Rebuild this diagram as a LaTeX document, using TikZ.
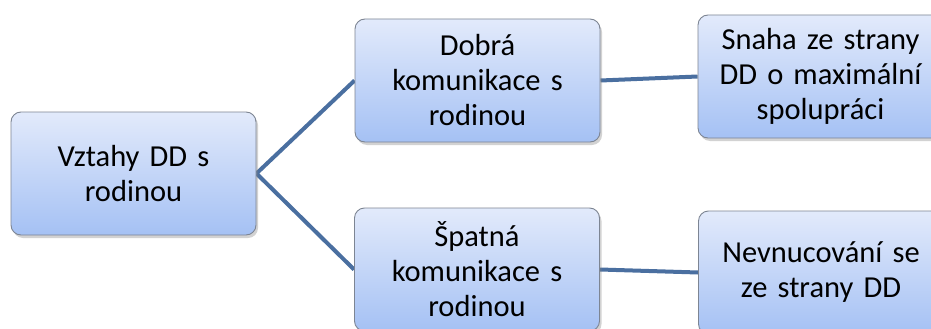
\documentclass[tikz,border=0pt]{standalone}
\usepackage{fontspec}
\setmainfont{Carlito}
\usetikzlibrary{shadows,backgrounds}
\definecolor{boxtop}{HTML}{E2EAFB}
\definecolor{boxbot}{HTML}{A5C1F4}
\definecolor{boxline}{HTML}{7D8593}
\definecolor{connc}{HTML}{4A6FA0}
\tikzset{
  box/.style={rectangle, rounded corners=10pt, draw=boxline, line width=0.9pt,
    top color=boxtop, bottom color=boxbot,
    minimum width=245pt, minimum height=123pt, text width=240pt, align=center,
    inner sep=0pt,
    font=\fontsize{30.5}{35}\selectfont,
    drop shadow={opacity=0.35, shadow xshift=2pt, shadow yshift=-3pt}},
  conn/.style={draw=connc, line width=4pt}
}
\begin{document}
\begin{tikzpicture}[x=1pt,y=-1pt]
\useasboundingbox (0,0) rectangle (931,329);
\clip (0,0) rectangle (931,329);
\node[box] (A) at (133.5,173.5) {Vztahy DD s\\rodinou};
\node[box] (B) at (477.5,80.5) {Dobrá\\komunikace s\\rodinou};
\node[box] (C) at (820.5,76.5) {Snaha ze strany\\DD o maximální\\spolupráci};
\node[box] (D) at (477,269.5) {Špatná\\komunikace s\\rodinou};
\node[box] (E) at (821,272.5) {Nevnucování se\\ze strany DD};
\begin{scope}[on background layer]
\fill[white] (0,0) rectangle (931,329);
\draw[conn] (A.east) -- (B.west);
\draw[conn] (A.east) -- (D.west);
\draw[conn] (B.east) -- (C.west);
\draw[conn] (D.east) -- (E.west);
\end{scope}
\end{tikzpicture}
\end{document}
